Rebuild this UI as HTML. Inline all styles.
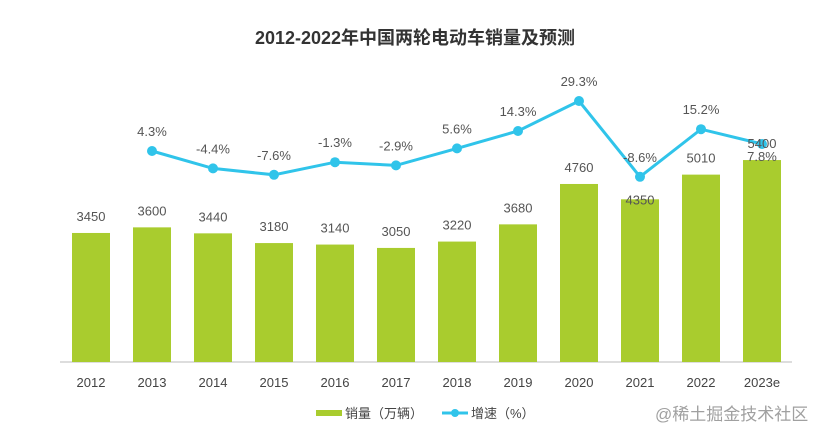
<!DOCTYPE html>
<html><head><meta charset="utf-8"><style>
body{margin:0;background:#fff;}
svg{display:block;font-family:"Liberation Sans","Noto Sans CJK SC",sans-serif;}
</style></head><body>
<svg id="c" width="831" height="441">
<text x="415" y="44" text-anchor="middle" font-size="18" font-weight="bold" fill="#333">2012-2022年中国两轮电动车销量及预测</text>
<line x1="60" y1="362" x2="792" y2="362" stroke="#bbb" stroke-width="1"/>
<g id="bars"></g><g id="line"></g><g id="labels"></g>
<rect x="316" y="410" width="26" height="6" fill="#a9cc2e"/>
<text x="345" y="418" font-size="13" fill="#444">销量（万辆）</text>
<line x1="442" y1="413" x2="468" y2="413" stroke="#30c4ea" stroke-width="3"/>
<circle cx="455" cy="413" r="4" fill="#30c4ea"/>
<text x="471" y="418" font-size="13" fill="#444">增速（%）</text>
<text x="655" y="420" font-size="17" fill="#a0a0a0">@稀土掘金技术社区</text>
</svg>
<script>
const years=["2012","2013","2014","2015","2016","2017","2018","2019","2020","2021","2022","2023e"];
const sales=[3450,3600,3440,3180,3140,3050,3220,3680,4760,4350,5010,5400];
const growth=[null,4.3,-4.4,-7.6,-1.3,-2.9,5.6,14.3,29.3,-8.6,15.2,7.8];
const NS="http://www.w3.org/2000/svg";
function xC(i){return 91+i*61;}
function yS(v){return 362-v*0.0374;}
function yG(p){return 159.6-p*2.0;}
function mk(t,a,p,txt){const e=document.createElementNS(NS,t);for(const k in a)e.setAttribute(k,a[k]);if(txt!=null)e.textContent=txt;p.appendChild(e);return e;}
const gb=document.getElementById('bars'),gl=document.getElementById('line'),gt=document.getElementById('labels');
years.forEach((y,i)=>{
  const top=yS(sales[i]);
  const b=mk('rect',{x:xC(i)-19,y:top,width:38,height:362-top,fill:'#a9cc2e'},gb);
  
  
  const ly=(y==="2021")?top+5:top-12;
  const l=mk('text',{x:xC(i),y:ly,'text-anchor':'middle','font-size':13,fill:'#555'},gt,String(sales[i]));
  
  
  const t=mk('text',{x:xC(i),y:387,'text-anchor':'middle','font-size':13,fill:'#444'},gt,y);
  
  
});
let pts=[];
growth.forEach((g,i)=>{if(g!==null)pts.push([xC(i),yG(g)]);});
const pl=mk('polyline',{points:pts.map(p=>p.join(',')).join(' '),fill:'none',stroke:'#30c4ea','stroke-width':3},gl);


growth.forEach((g,i)=>{
  if(g===null)return;
  const c=mk('circle',{cx:xC(i),cy:yG(g),r:5,fill:'#30c4ea'},gl);
  
  
  const ly=(i===growth.length-1)?yG(g)+17:yG(g)-15;
  const l=mk('text',{x:xC(i),y:ly,'text-anchor':'middle','font-size':13,fill:'#555'},gt,g.toFixed(1)+'%');
  
  
});
</script>
</body></html>
